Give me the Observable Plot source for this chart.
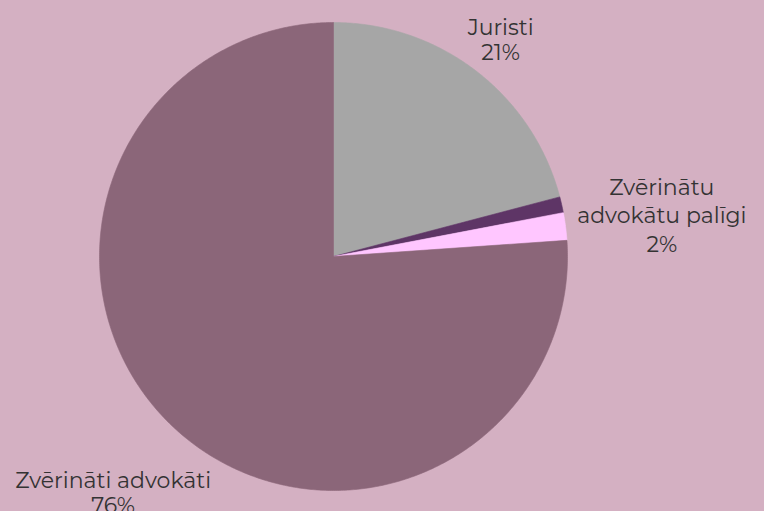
<!DOCTYPE html>
<html>
<head>
<meta charset="utf-8">
<script src="https://cdn.jsdelivr.net/npm/d3@7"></script>
<script src="https://cdn.jsdelivr.net/npm/@observablehq/plot@0.6"></script>
<style>
  html, body { margin: 0; padding: 0; background: #d4b0c2; }
  #chart svg { display: block; }
</style>
</head>
<body>
<div id="chart"></div>
<script>
// Data (share of total, %), clockwise from 12 o'clock
const categories = ["Juristi", "Citi", "Zvērinātu advokātu palīgi", "Zvērināti advokāti"];
const shares = [20.9, 1.1, 1.9, 76.1];
const labelNames = ["Juristi", "", "Zvērinātu\nadvokātu palīgi", "Zvērināti advokāti"];
const colors = ["#a6a6a6", "#5e3566", "#ffc6ff", "#8b6679"];

const W = 764, H = 511;
const cx = 333, cy = 256, R = 234;   // pixel layout of the pie
const labelRadius = [1.17, 0, 1.415, 1.38]; // label distance (in radii) per slice
const labelLineHeight = [1.15, 0, 1.3, 1.15];

const total = d3.sum(shares);
let acc = 0;
const slices = categories.map((name, i) => {
  const a0 = acc / total * 2 * Math.PI;
  acc += shares[i];
  const a1 = acc / total * 2 * Math.PI;
  return {name, value: shares[i], a0, a1, color: colors[i], i};
});

// polygon vertices in unit-circle data space (angle measured clockwise from top)
const pts = [];
for (const s of slices) {
  pts.push({name: s.name, x: 0, y: 0});
  const n = Math.max(2, Math.ceil((s.a1 - s.a0) / (Math.PI / 360)));
  for (let k = 0; k <= n; k++) {
    const a = s.a0 + (s.a1 - s.a0) * k / n;
    pts.push({name: s.name, x: Math.sin(a), y: Math.cos(a)});
  }
  pts.push({name: s.name, x: 0, y: 0});
}

const labels = slices.filter(s => labelNames[s.i]).map(s => {
  const m = (s.a0 + s.a1) / 2, r = labelRadius[s.i];
  return {
    text: labelNames[s.i] + "\n" + Math.round(s.value) + "%",
    x: r * Math.sin(m),
    y: r * Math.cos(m),
    lh: labelLineHeight[s.i]
  };
});

const chart = Plot.plot({
  width: W,
  height: H,
  margin: 0,
  style: {background: "#d4b0c2", fontFamily: "Montserrat, 'Open Sans', sans-serif"},
  x: {domain: [-cx / R, (W - cx) / R], range: [0, W], axis: null},
  y: {domain: [-(H - cy) / R, cy / R], range: [H, 0], axis: null},
  marks: [
    ...slices.map(s => Plot.line(pts.filter(p => p.name === s.name), {
      x: "x", y: "y", fill: s.color, stroke: s.color, strokeWidth: 0.6, curve: "linear"
    })),
    ...labels.map(l => Plot.text([l], {
      x: "x", y: "y", text: "text",
      fontSize: 22, lineHeight: l.lh, fill: "#333333", textAnchor: "middle"
    }))
  ]
});
document.getElementById("chart").append(chart);
</script>
</body>
</html>
